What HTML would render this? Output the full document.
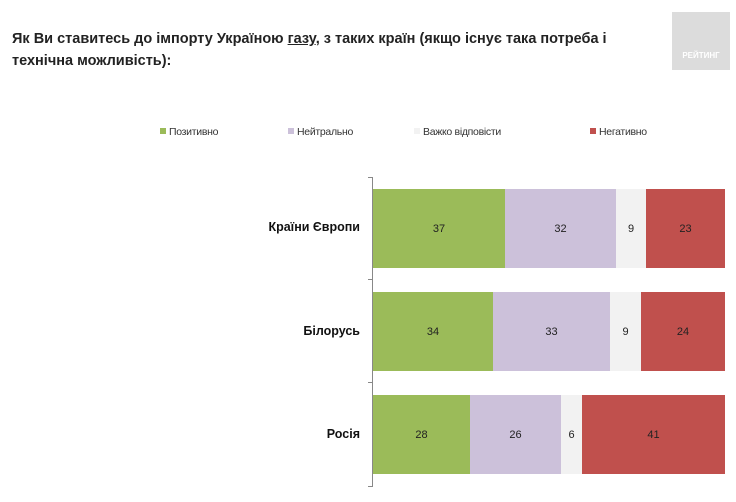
<!DOCTYPE html><html><head><meta charset="utf-8"><style>
body{margin:0;width:736px;height:502px;background:#fff;overflow:hidden;font-family:"Liberation Sans",sans-serif;position:relative}
div{position:absolute}
.t{left:12px;top:28px;font-size:14.5px;font-weight:bold;color:#222;line-height:22px;letter-spacing:0px}
.lg{top:126px;font-size:10.5px;color:#333;letter-spacing:-0.3px}
.lg span{display:inline-block;width:6px;height:6px;margin-right:3px;vertical-align:1px}
.b{height:79px;font-size:11px;color:#222;display:flex;align-items:center;justify-content:center}
.l{font-size:12.5px;font-weight:bold;color:#111;right:376px;text-align:right}
</style></head><body>
<div class="t">Як Ви ставитесь до імпорту Україною <u>газу</u>, з таких країн (якщо існує така потреба і<br>технічна можливість):</div>
<div style="left:672px;top:12px;width:58px;height:58px;background:#dcdcdc"></div>
<div style="left:672px;top:51px;width:58px;text-align:center;font-size:8px;font-weight:bold;color:#fff">РЕЙТИНГ</div>
<div class="lg" style="left:160px"><span style="background:#9bbb59"></span>Позитивно</div>
<div class="lg" style="left:288px"><span style="background:#ccc1da"></span>Нейтрально</div>
<div class="lg" style="left:414px"><span style="background:#f2f2f2"></span>Важко відповісти</div>
<div class="lg" style="left:590px"><span style="background:#c0504d"></span>Негативно</div>
<div style="left:372px;top:177px;width:1px;height:310px;background:#888"></div>
<div style="left:368px;top:177px;width:4px;height:1px;background:#888"></div>
<div style="left:368px;top:279px;width:4px;height:1px;background:#888"></div>
<div style="left:368px;top:382px;width:4px;height:1px;background:#888"></div>
<div style="left:368px;top:486px;width:4px;height:1px;background:#888"></div>
<div class="l" style="top:220px">Країни Європи</div>
<div class="l" style="top:324px">Білорусь</div>
<div class="l" style="top:427px">Росія</div>
<div class="b" style="top:189px;left:373px;width:132px;background:#9bbb59">37</div>
<div class="b" style="top:189px;left:505px;width:111px;background:#ccc1da">32</div>
<div class="b" style="top:189px;left:616px;width:30px;background:#f2f2f2">9</div>
<div class="b" style="top:189px;left:646px;width:79px;background:#c0504d">23</div>
<div class="b" style="top:292px;left:373px;width:120px;background:#9bbb59">34</div>
<div class="b" style="top:292px;left:493px;width:117px;background:#ccc1da">33</div>
<div class="b" style="top:292px;left:610px;width:31px;background:#f2f2f2">9</div>
<div class="b" style="top:292px;left:641px;width:84px;background:#c0504d">24</div>
<div class="b" style="top:395px;left:373px;width:97px;background:#9bbb59">28</div>
<div class="b" style="top:395px;left:470px;width:91px;background:#ccc1da">26</div>
<div class="b" style="top:395px;left:561px;width:21px;background:#f2f2f2">6</div>
<div class="b" style="top:395px;left:582px;width:143px;background:#c0504d">41</div>
</body></html>
